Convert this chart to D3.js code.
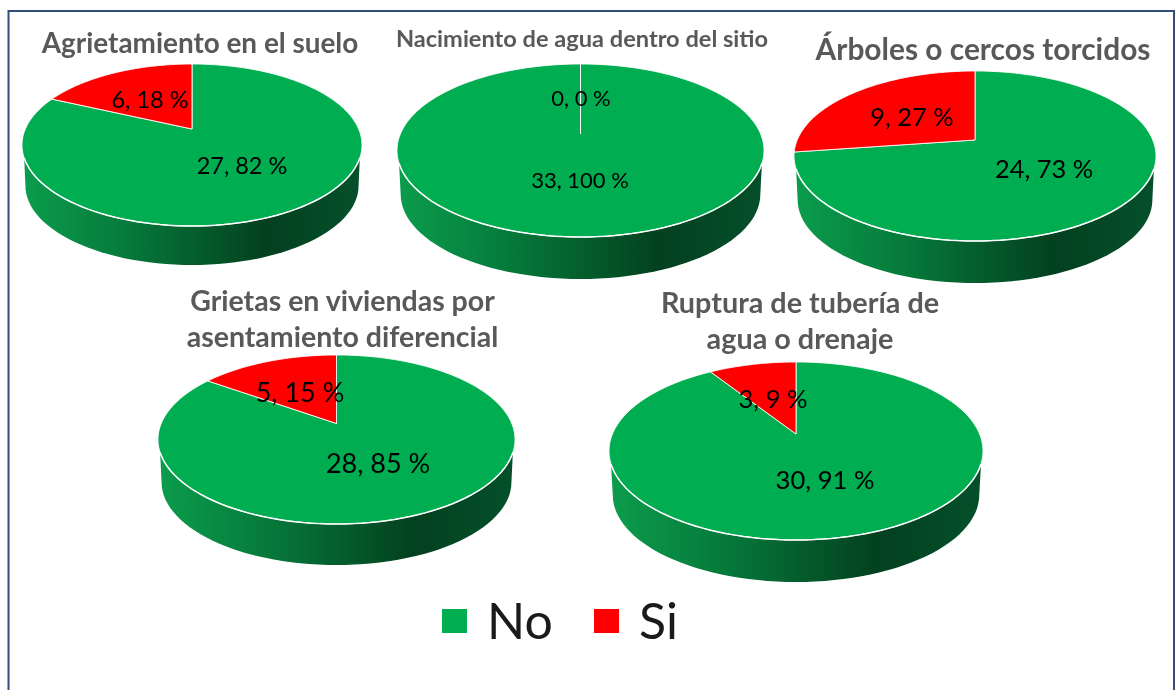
<!DOCTYPE html>
<html>
<head>
  <meta charset="UTF-8">
  <title>Pies</title>
  <style>
    html, body { margin: 0; padding: 0; background: #fff; }
    svg { display: block; filter: blur(0.4px); }
    text { font-family: Lato, "Noto Sans", sans-serif; }
    .title { font-weight: 700; fill: #595959; text-anchor: middle; }
    .label { fill: #000; text-anchor: middle; }
  </style>
</head>
<body>
<svg id="chart" width="1175" height="690"></svg>
<script src="https://d3js.org/d3.v7.min.js"></script>
<script>
// data
const categories = ["No", "Si"];
const titles = [
  ["Agrietamiento en el suelo"],
  ["Nacimiento de agua dentro del sitio"],
  ["Árboles o cercos torcidos"],
  ["Grietas en viviendas por", "asentamiento diferencial"],
  ["Ruptura de tubería de", "agua o drenaje"]
];
const noValues = [27, 33, 24, 28, 30];
const siValues = [6, 0, 9, 5, 3];
const noPercents = [82, 100, 73, 85, 91];
const siPercents = [18, 0, 27, 15, 9];

// layout of each pie: ellipse centre, radii, apex lift, bottom of the wall
const layout = [
  { cx: 192, cy: 145, rx: 170, ry: 81, lift: 16, bottom: 265, size: 23.5,
    titleX: 200, titleY: 43, titleSize: 27.9, no: [242, 166], si: [150, 100] },
  { cx: 580.5, cy: 150.5, rx: 183.5, ry: 86.5, lift: 16.5, bottom: 279, size: 22,
    titleX: 582, titleY: 39, titleSize: 23.6, no: [580, 180], si: [581, 98] },
  { cx: 975, cy: 156, rx: 181, ry: 85, lift: 16, bottom: 283, size: 25.4,
    titleX: 983, titleY: 50, titleSize: 29.9, no: [1044, 169], si: [912, 117] },
  { cx: 336.5, cy: 439.5, rx: 178.5, ry: 84.5, lift: 16, bottom: 565, size: 27,
    titleX: 342.5, titleY: 301, titleSize: 28.5, no: [378, 464], si: [300, 393] },
  { cx: 796, cy: 451, rx: 187, ry: 89, lift: 17, bottom: 582, size: 25.6,
    titleX: 800, titleY: 303, titleSize: 28.8, no: [825, 480], si: [773, 399] }
];

const color = d3.scaleOrdinal().domain(categories).range(["#00ad50", "#ff0000"]);

const svg = d3.select("#chart");
const defs = svg.append("defs");

// frame, runs off the bottom of the picture
svg.append("path")
  .attr("d", "M8.5,700V11H1174V700")
  .attr("fill", "none")
  .attr("stroke", "#2f5078")
  .attr("stroke-width", 2);

const pie = d3.pie().sort(null).value(d => d.value);
const line = d3.line();

// the disc is tilted, so the apex sits above the ellipse centre: use a homography
function project(p, angle, r) {
  const k = p.lift / p.ry;
  const u = Math.sin(angle) * r, v = Math.cos(angle) * r;
  const w = 1 + k * v;
  return [
    p.cx + p.rx * Math.sqrt(1 - k * k) * u / w,
    p.cy - (p.ry * v + p.lift) / w
  ];
}

layout.forEach((p, i) => {
  const g = svg.append("g");
  const data = categories.map((c, j) => ({ name: c, value: j === 0 ? noValues[i] : siValues[i] }));

  // where the front rim starts, a bit below the widest point of the ellipse
  const rimStart = Math.asin(13 / p.ry);
  const rimX = p.rx * Math.cos(rimStart), rimY = p.cy + 13;

  // wall
  const gradId = "wall" + i;
  const grad = defs.append("linearGradient").attr("id", gradId)
    .attr("x1", "0").attr("x2", "1").attr("y1", "0").attr("y2", "0");
  [[0, "#0b9c4c"], [0.3, "#067a3b"], [0.72, "#03401f"], [1, "#04502a"]].forEach(s => {
    grad.append("stop").attr("offset", s[0]).attr("stop-color", s[1]);
  });
  const rxb = p.rx * 0.98, ryb = p.ry * 0.98, cyb = p.bottom - ryb;
  const wall = d3.range(0, 181, 3).map(a => {
    const t = a * Math.PI / 180;
    return [p.cx + rxb * Math.cos(t), cyb + ryb * Math.sin(t)];
  });
  wall.unshift([p.cx + rimX, rimY]);
  wall.push([p.cx - rimX, rimY]);
  g.append("path").attr("d", line(wall) + "Z").attr("fill", `url(#${gradId})`);

  // top of the pie
  g.selectAll("path.slice")
    .data(pie(data))
    .enter()
    .append("path")
    .attr("class", "slice")
    .attr("fill", d => color(d.data.name))
    .attr("stroke", "#fff")
    .attr("stroke-opacity", 0.85)
    .attr("stroke-width", 1)
    .attr("stroke-linejoin", "round")
    .attr("d", d => {
      const n = Math.max(1, Math.ceil((d.endAngle - d.startAngle) / 0.03));
      const pts = d3.range(n + 1).map(s =>
        project(p, d.startAngle + (d.endAngle - d.startAngle) * s / n, 1));
      pts.unshift(project(p, 0, 0));
      return line(pts) + "Z";
    });

  // brighter rim along the front edge
  const rim = d3.range(0, 61).map(s => {
    const t = rimStart + (Math.PI - 2 * rimStart) * s / 60;
    return [p.cx + p.rx * Math.cos(t), p.cy + p.ry * Math.sin(t)];
  });
  g.append("path").attr("d", line(rim))
    .attr("fill", "none")
    .attr("stroke", "#fff")
    .attr("stroke-width", 1.5);

  // labels
  g.append("text").attr("class", "label")
    .attr("x", p.no[0]).attr("y", p.no[1]).attr("dy", "0.35em")
    .style("font-size", p.size + "px")
    .text(`${noValues[i]}, ${noPercents[i]} %`);
  g.append("text").attr("class", "label")
    .attr("x", p.si[0]).attr("y", p.si[1]).attr("dy", "0.35em")
    .style("font-size", p.size + "px")
    .text(`${siValues[i]}, ${siPercents[i]} %`);

  // title
  titles[i].forEach((t, j) => {
    svg.append("text").attr("class", "title")
      .attr("x", p.titleX).attr("y", p.titleY + j * 36).attr("dy", "0.35em")
      .style("font-size", p.titleSize + "px")
      .text(t);
  });
});

// legend
const legendX = [442, 594];
const legendTextX = [487, 639];
categories.forEach((c, i) => {
  svg.append("rect")
    .attr("x", legendX[i]).attr("y", 609)
    .attr("width", 25).attr("height", 24)
    .attr("fill", color(c));
  svg.append("text")
    .attr("x", legendTextX[i]).attr("y", 639)
    .style("font-size", "50px")
    .attr("fill", "#1a1a1a")
    .text(c);
});
</script>
</body>
</html>
